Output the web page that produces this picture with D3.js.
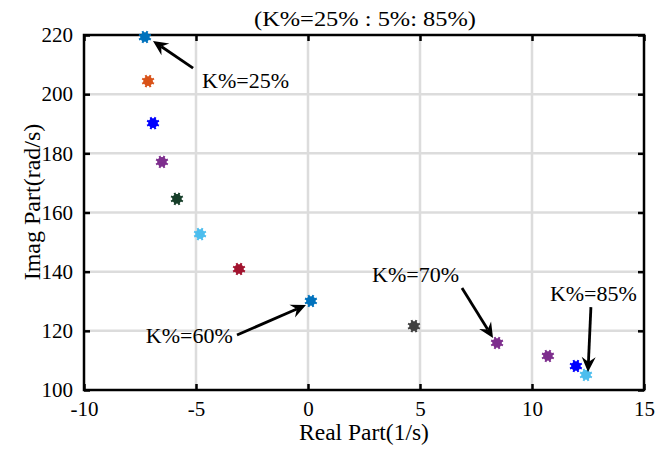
<!DOCTYPE html>
<html><head><meta charset="utf-8">
<script src="https://cdn.jsdelivr.net/npm/d3@7"></script>
<style>body{margin:0;background:#fff;} svg{display:block;}</style>
</head><body><svg id="c" width="670" height="451"></svg>
<script>
const kLabels = ["25%","30%","35%","40%","45%","50%","55%","60%","65%","70%","75%","80%","85%"];
const realPart = [-7.28,-7.14,-6.92,-6.52,-5.85,-4.82,-3.08,0.13,4.73,8.44,10.71,11.96,12.41];
const imagPart = [219.3,204.4,190.2,177.1,164.6,152.7,140.9,130.1,121.6,115.9,111.5,108.1,105.1];
const colors = ["#0072BD","#D95319","#0000FF","#7E2F8E","#173F2A","#4DBEEE","#A2142F","#0072BD","#404040","#7E2F8E","#7E2F8E","#0000FF","#4DBEEE"];
const xTicks = [-10,-5,0,5,10,15];
const yTicks = [100,120,140,160,180,200,220];
const title = "(K%=25% : 5%: 85%)";
const xLabel = "Real Part(1/s)";
const yLabel = "Imag Part(rad/s)";
// annotations: text position and arrow tail/head in data coordinates
const annText = ["K%=25%","K%=60%","K%=70%","K%=85%"];
const annTextPos = [[-4.73,202.1],[-7.24,115.9],[2.86,136.5],[10.80,130.1]];
const annTail = [[-5.13,208.8],[-3.17,118.6],[6.875,134.5],[12.63,128.0]];
const annHead = [[-6.92,218.0],[-0.09,128.7],[8.26,117.6],[12.5,106.1]];

const svg = d3.select("#c");
const L=84, R=644, T=35, B=390;
const x = d3.scaleLinear().domain([-10,15]).range([L,R]);
const y = d3.scaleLinear().domain([100,220]).range([B,T]);
const font = "'Liberation Serif','Times New Roman',serif";

// grid
svg.append("g").selectAll("line").data(xTicks.slice(1,-1)).join("line")
  .attr("x1",d=>x(d)).attr("x2",d=>x(d)).attr("y1",T).attr("y2",B)
  .attr("stroke","#dcdcdc").attr("stroke-width",2.5);
svg.append("g").selectAll("line").data(yTicks.slice(1,-1)).join("line")
  .attr("y1",d=>y(d)).attr("y2",d=>y(d)).attr("x1",L).attr("x2",R)
  .attr("stroke","#dcdcdc").attr("stroke-width",2.5);

// axes
const xa = svg.append("g").attr("transform",`translate(0,${B})`)
  .call(d3.axisBottom(x).tickValues(xTicks).tickSizeInner(-6).tickSizeOuter(0).tickPadding(11).tickFormat(d=>String(d)));
const xa2 = svg.append("g").attr("transform",`translate(0,${T})`)
  .call(d3.axisTop(x).tickValues(xTicks).tickSizeInner(-6).tickSizeOuter(0).tickFormat(""));
const ya = svg.append("g").attr("transform",`translate(${L},0)`)
  .call(d3.axisLeft(y).tickValues(yTicks).tickSizeInner(-6).tickSizeOuter(0).tickPadding(11).tickFormat(d=>String(d)));
const ya2 = svg.append("g").attr("transform",`translate(${R},0)`)
  .call(d3.axisRight(y).tickValues(yTicks).tickSizeInner(-6).tickSizeOuter(0).tickFormat(""));
[xa,xa2,ya,ya2].forEach(g=>{
  g.select(".domain").remove();
  g.selectAll(".tick line").attr("stroke","#000").attr("stroke-width",2.5);
  g.selectAll("text").attr("font-family",font).attr("font-size",21).attr("fill","#000");
});
xa.selectAll("text").attr("dy","0.71em");
svg.append("rect").attr("x",L).attr("y",T).attr("width",R-L).attr("height",B-T)
  .attr("fill","none").attr("stroke","#000").attr("stroke-width",2.5);

// markers
const pts = realPart.map((d,i)=>({x:realPart[i],y:imagPart[i],c:colors[i]}));
const mg = svg.append("g").selectAll("g").data(pts).join("g")
  .attr("transform",d=>`translate(${x(d.x)},${y(d.y)})`);
mg.append("circle").attr("r",4.8).attr("fill",d=>d.c);
mg.each(function(d){
  const g=d3.select(this);
  for(let k=0;k<8;k++){
    const a=k*Math.PI/4+Math.PI/8;
    g.append("line").attr("x1",0).attr("y1",0).attr("x2",6.4*Math.cos(a)).attr("y2",6.4*Math.sin(a))
      .attr("stroke",d.c).attr("stroke-width",2);
  }
});

// annotations
annText.forEach((t,i)=>{
  svg.append("text").attr("x",x(annTextPos[i][0])).attr("y",y(annTextPos[i][1]))
    .attr("font-family",font).attr("font-size",22).attr("fill","#000").text(t);
  const x1=x(annTail[i][0]), y1=y(annTail[i][1]), x2=x(annHead[i][0]), y2=y(annHead[i][1]);
  const ang=Math.atan2(y2-y1,x2-x1);
  const hl=15, hw=7, back=10;
  const bx=x2-back*Math.cos(ang), by=y2-back*Math.sin(ang);
  svg.append("line").attr("x1",x1).attr("y1",y1).attr("x2",bx).attr("y2",by)
    .attr("stroke","#000").attr("stroke-width",2.8);
  const px=-Math.sin(ang), py=Math.cos(ang);
  const ex=x2-hl*Math.cos(ang), ey=y2-hl*Math.sin(ang);
  const path=`M${x2},${y2}L${ex+hw*px},${ey+hw*py}L${bx},${by}L${ex-hw*px},${ey-hw*py}Z`;
  svg.append("path").attr("d",path).attr("fill","#000");
});

// titles
svg.append("text").attr("x",365).attr("y",26).attr("text-anchor","middle")
  .attr("font-family",font).attr("font-size",22).attr("textLength",222).attr("lengthAdjust","spacingAndGlyphs").text(title);
svg.append("text").attr("x",(L+R)/2).attr("y",440).attr("text-anchor","middle")
  .attr("font-family",font).attr("font-size",23.5).text(xLabel);
svg.append("text").attr("transform",`translate(40,202) rotate(-90)`).attr("text-anchor","middle")
  .attr("font-family",font).attr("font-size",24).text(yLabel);
</script></body></html>
